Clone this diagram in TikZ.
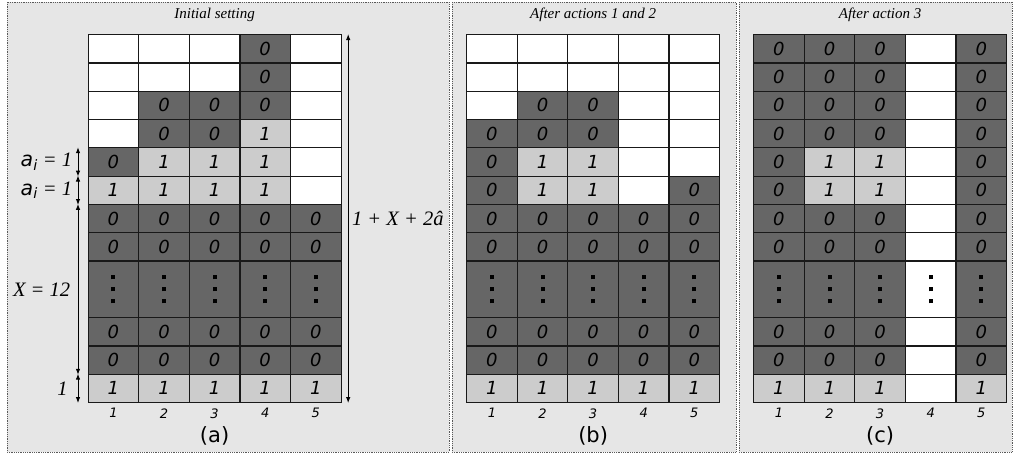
\documentclass[tikz,border=0pt]{standalone}
\usepackage{fontspec}
\setmainfont{Liberation Serif}
\setsansfont{DejaVu Sans}
\usetikzlibrary{arrows.meta,positioning,calc}
\definecolor{panelbg}{HTML}{E6E6E6}
\definecolor{celldark}{HTML}{666666}
\definecolor{celllight}{HTML}{CCCCCC}
\tikzset{every picture/.style={line width=0.75pt}}
% three square dots for the elided rows
\newcommand{\sqdots}{\vbox{\offinterlineskip\hbox{\rule{4pt}{4pt}}\vskip8pt\hbox{\rule{4pt}{4pt}}\vskip8pt\hbox{\rule{4pt}{4pt}}}}
% one grid: name, left x, rows as top/{kinds}
\newcommand{\cellgrid}[3]{%
  \foreach \row/\kinds in {#3}{%
    \foreach \kind [count=\col] in \kinds{%
      \node (#1-\row-\col) at ({#2+(\col-1)*50.6},{34+\row*28.3}) [\kind];
    }%
  }%
}
\tikzset{
  cell/.style={draw=black!90, line width=1.2pt, anchor=north west, inner sep=0pt,
    minimum width=50.6pt, minimum height=28.3pt,
    font=\sffamily\itshape\fontsize{18}{18}\selectfont},
  dk/.style={cell, fill=celldark, node contents=0},
  lt/.style={cell, fill=celllight, node contents=1},
  wh/.style={cell, fill=white, node contents={}},
  dd/.style={cell, fill=celldark, minimum height=56.6pt, node contents=\sqdots},
  wd/.style={cell, fill=white, minimum height=56.6pt, node contents=\sqdots},
  panel/.style={fill=panelbg, draw=black!65, densely dotted, line width=0.8pt},
  title/.style={font=\itshape\fontsize{15}{15}\selectfont, inner sep=0pt},
  collab/.style={font=\sffamily\itshape\fontsize{13}{13}\selectfont, inner sep=0pt},
  caption/.style={font=\sffamily\fontsize{21}{21}\selectfont, inner sep=0pt},
  lbl/.style={font=\itshape\fontsize{20.5}{20.5}\selectfont, inner sep=0pt},
  dim/.style={{Latex[length=6pt,width=4.5pt]}-{Latex[length=6pt,width=4.5pt]}, line width=1pt},
}

\begin{document}
\begin{tikzpicture}[x=1pt,y=-1pt]
    \useasboundingbox (0,0) rectangle (1016,455);

    % panel backgrounds
    \draw[panel] (7,2) rectangle (449,452);
    \draw[panel] (452,2) rectangle (736,452);
    \draw[panel] (739,2) rectangle (1012,452);

    % (a) initial setting
    \cellgrid{a}{87.5}{0/{wh,wh,wh,dk,wh}, 1/{wh,wh,wh,dk,wh}, 2/{wh,dk,dk,dk,wh},
      3/{wh,dk,dk,lt,wh}, 4/{dk,lt,lt,lt,wh}, 5/{lt,lt,lt,lt,wh},
      6/{dk,dk,dk,dk,dk}, 7/{dk,dk,dk,dk,dk}, 8/{dd,dd,dd,dd,dd},
      10/{dk,dk,dk,dk,dk}, 11/{dk,dk,dk,dk,dk}, 12/{lt,lt,lt,lt,lt}}

    % (b) after actions 1 and 2
    \cellgrid{b}{466}{0/{wh,wh,wh,wh,wh}, 1/{wh,wh,wh,wh,wh}, 2/{wh,dk,dk,wh,wh},
      3/{dk,dk,dk,wh,wh}, 4/{dk,lt,lt,wh,wh}, 5/{dk,lt,lt,wh,dk},
      6/{dk,dk,dk,dk,dk}, 7/{dk,dk,dk,dk,dk}, 8/{dd,dd,dd,dd,dd},
      10/{dk,dk,dk,dk,dk}, 11/{dk,dk,dk,dk,dk}, 12/{lt,lt,lt,lt,lt}}

    % (c) after action 3
    \cellgrid{c}{753}{0/{dk,dk,dk,wh,dk}, 1/{dk,dk,dk,wh,dk}, 2/{dk,dk,dk,wh,dk},
      3/{dk,dk,dk,wh,dk}, 4/{dk,lt,lt,wh,dk}, 5/{dk,lt,lt,wh,dk},
      6/{dk,dk,dk,wh,dk}, 7/{dk,dk,dk,wh,dk}, 8/{dd,dd,dd,wd,dd},
      10/{dk,dk,dk,wh,dk}, 11/{dk,dk,dk,wh,dk}, 12/{lt,lt,lt,wh,lt}}

    % titles
    \node[title] (a-title) at ($(a-0-3.north)+(0,-19)$) {Initial setting};
    \node[title] (b-title) at ($(b-0-3.north)+(0,-19)$) {After actions 1 and 2};
    \node[title] (c-title) at ($(c-0-3.north)+(0,-19)$) {After action 3};

    % column numbers and captions
    \foreach \p in {a,b,c}{
      \foreach \col in {1,...,5}
        \node[collab, below=5pt of \p-12-\col] (\p-n-\col) {\col};
      \node[caption] (\p-cap) at ($(\p-12-3.south)+(0,33)$) {(\p)};
    }

    % left dimensions
    \draw[dim] ([xshift=-9.5pt]a-4-1.north west) -- ([xshift=-9.5pt]a-4-1.south west);
    \draw[dim] ([xshift=-9.5pt]a-5-1.north west) -- ([xshift=-9.5pt]a-5-1.south west);
    \draw[dim] ([xshift=-9.5pt]a-6-1.north west) -- ([xshift=-9.5pt]a-11-1.south west);
    \draw[dim] ([xshift=-9.5pt]a-12-1.north west) -- ([xshift=-9.5pt]a-12-1.south west);
    \node[lbl, anchor=east] (ai-top) at ([xshift=-15pt]a-4-1.west) {{\sffamily a}\textsubscript{\sffamily i} = 1};
    \node[lbl, anchor=east] (ai-bot) at ([xshift=-15pt]a-5-1.west) {{\sffamily a}\textsubscript{\sffamily i} = 1};
    \node[lbl, anchor=east] (xlen) at ([xshift=-17pt]a-8-1.west) {X = 12};
    \node[lbl, anchor=east] (one) at ([xshift=-19.5pt]a-12-1.west) {1};

    % total height
    \draw[dim] ([xshift=6.5pt]a-0-5.north east) -- ([xshift=6.5pt]a-12-5.south east);
    \node[lbl, anchor=west] (total) at ([xshift=10pt]a-6-5.east) {1 + X + 2â};
\end{tikzpicture}
\end{document}
